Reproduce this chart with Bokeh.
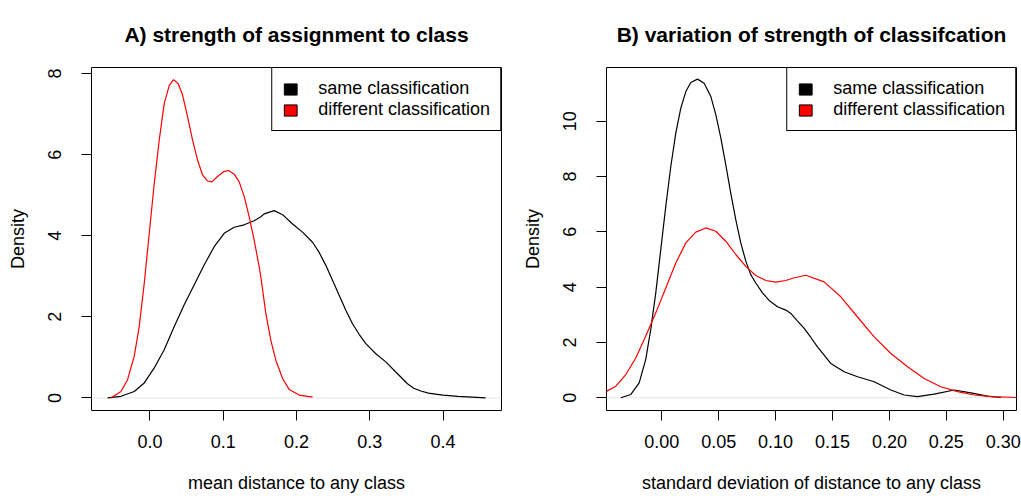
from bokeh.plotting import figure
from bokeh.models import (Range1d, FixedTicker, PrintfTickFormatter, Span, Legend,
                          LegendItem, ColumnDataSource)
from bokeh.layouts import row
from bokeh.embed import file_html
from bokeh.resources import INLINE

FONT = "Liberation Sans"
NAN = float("nan")

# ---------------- Panel A data (density estimates) ----------------
a_same_x = [-0.0577, -0.0395, -0.0214, -0.0077, 0.0059, 0.0195, 0.0332, 0.0468, 0.0605, 0.074,
            0.0877, 0.1013, 0.115, 0.1286, 0.1422, 0.1514, 0.1559, 0.1695, 0.181, 0.1946,
            0.2082, 0.2219, 0.2309, 0.240, 0.2491, 0.2582, 0.2673, 0.2764, 0.2854, 0.2946,
            0.3082, 0.3218, 0.3355, 0.3514, 0.360, 0.3696, 0.380, 0.392, 0.400, 0.420,
            0.440, 0.458]
a_same_y = [0.0, 0.04, 0.16, 0.37, 0.74, 1.19, 1.76, 2.30, 2.79, 3.28,
            3.73, 4.06, 4.21, 4.27, 4.37, 4.47, 4.54, 4.62, 4.52, 4.29,
            4.09, 3.84, 3.59, 3.27, 2.90, 2.53, 2.16, 1.83, 1.57, 1.34,
            1.09, 0.89, 0.64, 0.35, 0.24, 0.17, 0.12, 0.09, 0.07, 0.04,
            0.02, 0.0]

a_diff_x = [-0.0532, -0.0395, -0.0305, -0.0214, -0.0146, -0.0077, -0.0009, 0.0059, 0.0127, 0.0195,
            0.0264, 0.0323, 0.0386, 0.0446, 0.0514, 0.0582, 0.065, 0.0718, 0.0787, 0.0846,
            0.0923, 0.1005, 0.1073, 0.115, 0.1218, 0.1286, 0.1354, 0.1422, 0.149, 0.1514,
            0.1582, 0.165, 0.1718, 0.181, 0.190, 0.2036, 0.222]
a_diff_y = [0.0, 0.16, 0.45, 1.03, 1.76, 2.83, 4.06, 5.29, 6.36, 7.26,
            7.71, 7.85, 7.75, 7.47, 6.93, 6.36, 5.87, 5.50, 5.35, 5.33,
            5.46, 5.58, 5.61, 5.52, 5.33, 4.97, 4.47, 3.90, 3.24, 2.98,
            2.08, 1.42, 0.93, 0.48, 0.21, 0.07, 0.02]

a_xticks = [0.0, 0.1, 0.2, 0.3, 0.4]
a_yticks = [0, 2, 4, 6, 8]

# ---------------- Panel B data ----------------
b_same_x = [-0.036, -0.0272, -0.0199, -0.0141, -0.0097, -0.0053, -0.0009, 0.0035, 0.0079, 0.0123,
            0.0167, 0.0211, 0.0255, 0.0314, 0.0372, 0.0431, 0.0475, 0.0519, 0.0562, 0.0606,
            0.065, 0.0694, 0.0738, 0.0782, 0.0826, 0.0885, 0.0943, 0.1017, 0.109, 0.1134,
            0.1187, 0.1251, 0.131, 0.1368, 0.1485, 0.1602, 0.172, 0.1866, 0.2013, 0.213,
            0.2247, 0.2393, 0.257, 0.2716, 0.2862, 0.298]
b_same_y = [0.0, 0.12, 0.54, 1.39, 2.47, 3.79, 5.36, 6.92, 8.36, 9.57,
            10.47, 11.07, 11.40, 11.52, 11.37, 10.89, 10.23, 9.39, 8.43, 7.40,
            6.44, 5.60, 4.94, 4.45, 4.15, 3.79, 3.52, 3.29, 3.17, 3.05,
            2.80, 2.51, 2.18, 1.84, 1.24, 0.94, 0.76, 0.58, 0.28, 0.10,
            0.04, 0.13, 0.28, 0.18, 0.06, 0.01]

b_diff_x = [-0.055, -0.0483, -0.0404, -0.0316, -0.0229, -0.0141, -0.0053, 0.0035, 0.0123, 0.0211,
            0.0299, 0.0387, 0.0475, 0.0562, 0.065, 0.0738, 0.0826, 0.0914, 0.1002, 0.109,
            0.1157, 0.1266, 0.1427, 0.1573, 0.172, 0.1866, 0.2013, 0.216, 0.2305, 0.2452,
            0.2599, 0.2745, 0.2892, 0.3126, 0.330]
b_diff_y = [0.13, 0.24, 0.42, 0.84, 1.44, 2.23, 3.07, 3.97, 4.87, 5.60,
            5.99, 6.14, 6.02, 5.66, 5.18, 4.75, 4.42, 4.24, 4.18, 4.24,
            4.33, 4.43, 4.19, 3.65, 2.92, 2.20, 1.60, 1.12, 0.70, 0.40,
            0.22, 0.10, 0.04, 0.01, 0.0]

b_xticks = [0.0, 0.05, 0.10, 0.15, 0.20, 0.25, 0.30]
b_yticks = [0, 2, 4, 6, 8, 10]

legend_labels = ["same classification", "different classification"]
series_colors = ["black", "red"]


def style_axis(ax):
    ax.axis_line_color = None
    ax.major_tick_line_color = "black"
    ax.major_tick_out = 10
    ax.major_tick_in = 0
    ax.minor_tick_out = 0
    ax.minor_tick_in = 0
    ax.major_label_text_font = FONT
    ax.major_label_text_font_size = "18px"
    ax.major_label_text_color = "black"
    ax.axis_label_text_font = FONT
    ax.axis_label_text_font_size = "18px"
    ax.axis_label_text_font_style = "normal"
    ax.axis_label_text_color = "black"


def make_panel(title, xlabel, xr, yr, xticks, xfmt, yticks,
               sx, sy, dx, dy, width, bl, br):
    p = figure(width=width, height=496, x_range=Range1d(*xr), y_range=Range1d(*yr),
               output_backend="svg", toolbar_location=None, title=title,
               min_border_left=bl, min_border_right=br,
               min_border_top=67, min_border_bottom=86)

    xax = p.below[0]
    yax = p.left[0]
    style_axis(xax)
    style_axis(yax)

    xax.ticker = FixedTicker(ticks=xticks)
    xax.formatter = PrintfTickFormatter(format=xfmt)
    xax.axis_label = xlabel
    xax.major_label_standoff = 14
    xax.axis_label_standoff = 22

    yax.ticker = FixedTicker(ticks=yticks)
    yax.formatter = PrintfTickFormatter(format="%d")
    yax.axis_label = "Density"
    yax.major_label_orientation = "vertical"
    yax.major_label_standoff = 20
    yax.axis_label_standoff = 18

    p.title.text_font = FONT
    p.title.text_font_size = "21px"
    p.title.text_font_style = "bold"
    p.title.align = "center"
    p.title.vertical_align = "top"
    p.title.standoff = 39
    p.title.text_color = "black"

    p.outline_line_color = "black"
    p.outline_line_width = 1
    p.outline_line_alpha = 1
    p.xgrid.visible = False
    p.ygrid.visible = False

    p.add_layout(Span(location=0, dimension="width", line_color="#e6e6e6",
                      line_width=1, level="underlay"))

    p.line(sx, sy, line_color=series_colors[0], line_width=1.2)
    p.line(dx, dy, line_color=series_colors[1], line_width=1.2)

    items = []
    for lab, col in zip(legend_labels, series_colors):
        # legend key only: a single undefined (NaN) box that is never drawn in the plot area
        r = p.quad(source=ColumnDataSource(dict(l=[NAN], r=[NAN], t=[NAN], b=[NAN])),
                   left="l", right="r", top="t", bottom="b",
                   fill_color=col, line_color="black", line_width=1)
        items.append(LegendItem(label=lab, renderers=[r]))
    legend = Legend(items=items, location="top_right", margin=0, padding=10, spacing=0,
                    glyph_width=16, glyph_height=14, label_standoff=20,
                    label_text_font=FONT, label_text_font_size="18px",
                    label_text_color="black",
                    border_line_color="black", border_line_width=1, border_line_alpha=1,
                    background_fill_color="white", background_fill_alpha=1)
    p.add_layout(legend)
    return p


pA = make_panel("A) strength of assignment to class", "mean distance to any class",
                (-0.0797, 0.4797), (-0.31, 8.15), a_xticks, "%.1f", a_yticks,
                a_same_x, a_same_y, a_diff_x, a_diff_y, 510, 91, 9)
pB = make_panel("B) variation of strength of classifcation",
                "standard deviation of distance to any class",
                (-0.0486, 0.3117), (-0.46, 11.94), b_xticks, "%.2f", b_yticks,
                b_same_x, b_same_y, b_diff_x, b_diff_y, 511, 96, 5)

layout = row(pA, pB)
open("out.html", "w").write(file_html(layout, INLINE))
